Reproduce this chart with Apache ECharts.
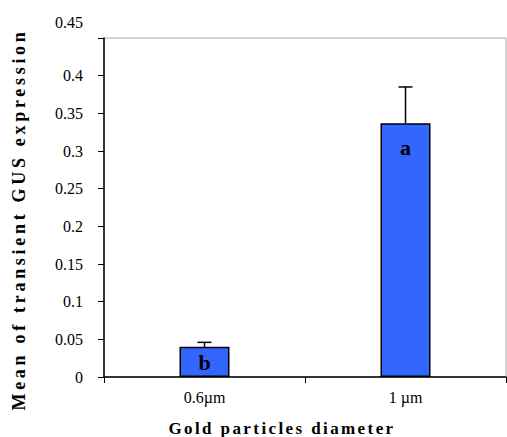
<!DOCTYPE html>
<html>
<head>
<meta charset="utf-8">
<script src="https://cdn.jsdelivr.net/npm/echarts@6/dist/echarts.min.js"></script>
<style>
html, body { margin: 0; padding: 0; background: #fff; }
#chart { width: 507px; height: 437px; }
/* spaced-out bold axis titles */
#chart text[style*="font-size: 18px"] { letter-spacing: 3.7px; }
#chart text[style*="font-size: 17px"] { letter-spacing: 2.4px; }
</style>
</head>
<body>
<div id="chart"></div>
<script>
const categories = ['0.6µm', '1 µm'];
const means = [0.040, 0.337];
const errors = [0.006, 0.048];
const letters = ['b', 'a'];
const labelGap = [5, 13];

const chart = echarts.init(document.getElementById('chart'), null, { renderer: 'svg' });
const serif = 'Liberation Serif';

chart.setOption({
    animation: false,
    grid: {
        left: 104, right: 1, top: 38, bottom: 60,
        outerBoundsMode: 'none',
        show: true, borderColor: '#aaa', borderWidth: 1
    },
    xAxis: {
        type: 'category',
        data: categories,
        name: 'Gold particles diameter',
        nameLocation: 'middle',
        nameGap: 43,
        nameTextStyle: { fontFamily: serif, fontWeight: 'bold', fontSize: 17, color: '#000', padding: [0, 46, 0, 0] },
        axisLine: { lineStyle: { color: '#000', width: 1.5 } },
        axisTick: { show: true, length: 6, lineStyle: { color: '#000' } },
        axisLabel: { fontFamily: serif, fontSize: 16, color: '#000', margin: 12 }
    },
    yAxis: {
        type: 'value',
        min: 0, max: 0.45, interval: 0.05,
        name: 'Mean of transient GUS expression',
        nameLocation: 'middle',
        nameGap: 76,
        nameTextStyle: { fontFamily: serif, fontWeight: 'bold', fontSize: 18, color: '#000', padding: [0, 24, 0, 0] },
        axisLine: { show: true, lineStyle: { color: '#000', width: 1.5 } },
        axisTick: { show: true, length: 6, lineStyle: { color: '#000' } },
        splitLine: { show: false },
        axisLabel: {
            fontFamily: serif, fontSize: 16, color: '#000', margin: 21,
            formatter: v => (Math.abs(v - 0.45) < 1e-9 ? '{t|0.45}' : String(+v.toFixed(2))),
            rich: { t: { fontFamily: serif, fontSize: 16, color: '#000', padding: [0, 0, 32, 0] } }
        }
    },
    series: [
        {
            type: 'bar',
            barWidth: 50,
            data: means.map((m, i) => ({
                value: m,
                label: {
                    show: true, position: 'insideTop', distance: labelGap[i],
                    formatter: letters[i],
                    fontFamily: serif, fontWeight: 900, fontSize: 22, color: '#000'
                }
            })),
            itemStyle: { color: '#3366ff', borderColor: '#000', borderWidth: 1.5 }
        },
        {
            type: 'custom',
            data: means.map((m, i) => [i, m, m + errors[i]]),
            z: 3,
            renderItem: (params, api) => {
                const base = api.coord([api.value(0), api.value(1)]);
                const top = api.coord([api.value(0), api.value(2)]);
                const st = { stroke: '#000', lineWidth: 1.5 };
                return {
                    type: 'group',
                    children: [
                        { type: 'line', shape: { x1: base[0], y1: base[1], x2: top[0], y2: top[1] }, style: st },
                        { type: 'line', shape: { x1: top[0] - 7, y1: top[1], x2: top[0] + 7, y2: top[1] }, style: st }
                    ]
                };
            }
        }
    ]
});
</script>
</body>
</html>
